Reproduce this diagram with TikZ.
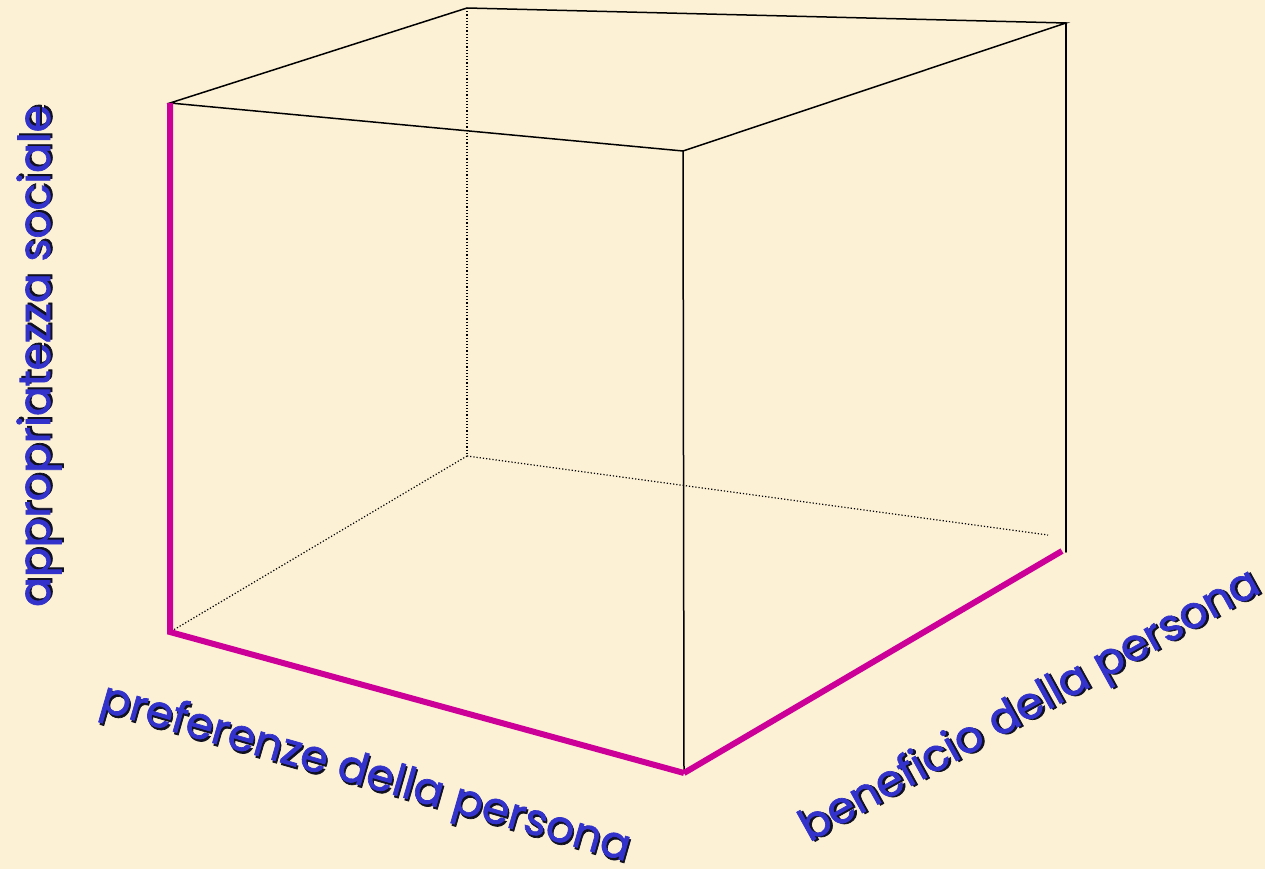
\documentclass[tikz,border=0pt]{standalone}
\usepackage{fontspec}
\newfontfamily\labfont{Poppins}[FakeBold=1.6]
\usepackage{xcolor}
\usetikzlibrary{calc}
\definecolor{paper}{HTML}{FCF1D5}
\definecolor{ink}{HTML}{3333CC}
\definecolor{shade}{HTML}{101020}
\definecolor{axiscol}{HTML}{CC0099}
\newcommand{\shadowtext}[1]{\rlap{\kern2pt\raisebox{-2pt}{\textcolor{shade}{#1}}}\textcolor{ink}{#1}}
\tikzset{
  edge/.style={draw=black, line width=1.5pt, line cap=round},
  hid/.style={draw=black, line width=1.2pt, dotted},
  axis/.style={draw=axiscol, line width=6pt, line join=miter},
  lab/.style={font=\labfont\fontsize{44}{50}\selectfont, inner sep=0pt},
}
\begin{document}
\begin{tikzpicture}[x=1pt,y=-1pt]
  \fill[paper] (0,0) rectangle (1265,869);
  \useasboundingbox (0,0) rectangle (1265,869);

  % corners of the box
  \coordinate (A) at (170,103);
  \coordinate (B) at (170,632);
  \coordinate (C) at (683,151);
  \coordinate (D) at (684,773);
  \coordinate (E) at (467,8);
  \coordinate (F) at (1066,23);
  \coordinate (G) at (1066,552);
  \coordinate (H) at (467,456);
  \coordinate (Gd) at (1048,535);
  \coordinate (Ga) at (1062,551);

  % visible edges
  \draw[edge] (A)--(E)--(F)--(C)--cycle;
  \draw[edge] (C)--(D);
  \draw[edge] (F)--(G);

  % hidden edges
  \draw[hid] (E)--(H);
  \draw[hid] (H)--(B);
  \draw[hid] (H)--(Gd);

  % the three axes
  \draw[axis] (A)--(B)--(D);
  \draw[axis] (D)--(Ga);

  \node[lab,rotate=90] (ylab) at (40,356) {\shadowtext{appropriatezza sociale}};
  \node[lab,rotate=-16] (xlab) at (365,776) {\shadowtext{preferenze della persona}};
  \node[lab,rotate=29] (zlab) at (1031,708) {\shadowtext{beneficio della persona}};
\end{tikzpicture}
\end{document}
